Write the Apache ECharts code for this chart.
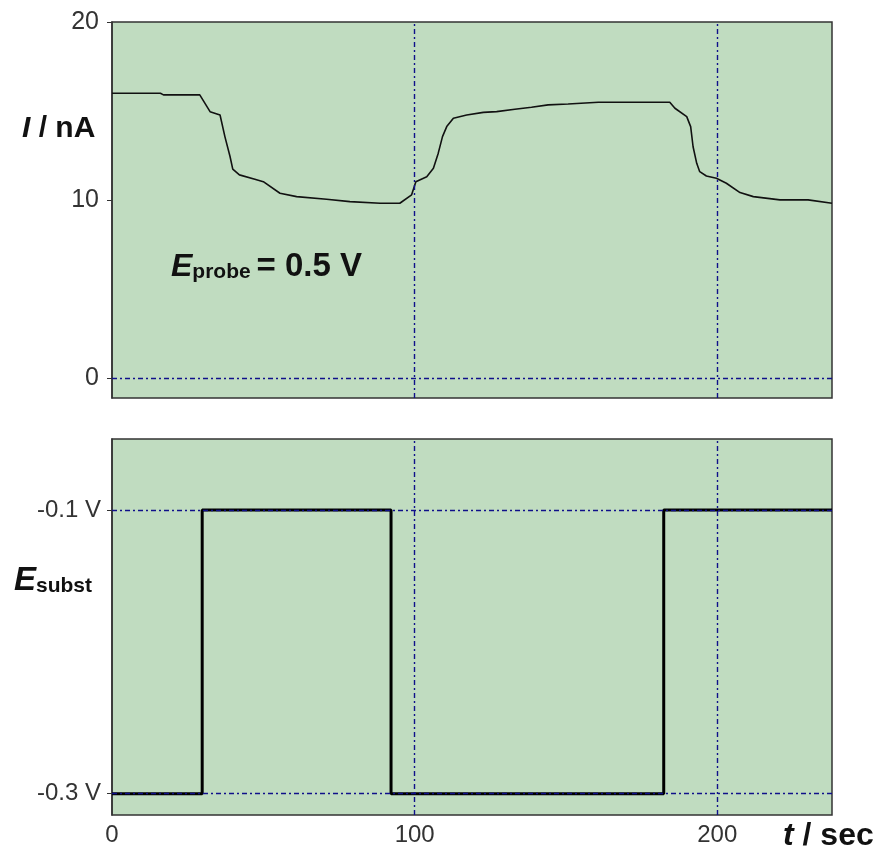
<!DOCTYPE html>
<html>
<head>
<meta charset="utf-8">
<script src="https://cdn.jsdelivr.net/npm/echarts@6/dist/echarts.min.js"></script>
<style>
html,body{margin:0;padding:0;background:#fff;}
#chart{width:881px;height:855px;}
</style>
</head>
<body>
<div id="chart"></div>
<script>
// Probe current trace (t in sec, I in nA)
const timeProbe = [0, 16, 17, 29, 32.4, 35.7, 37.3, 39.0, 39.9, 42.1, 47.2, 50.0, 55.5, 61.0, 70.9, 78.6, 88.6, 95.1, 99.0, 100.4, 104.0, 106.2, 107.8, 109.2, 110.6, 112.8, 117.2, 122.7, 127.1, 133.1, 138.6, 144.1, 150.7, 160.7, 184.3, 186.0, 189.9, 191.2, 192.0, 193.2, 194.2, 196.4, 199.7, 203.0, 207.5, 211.9, 220.7, 230.0, 237.9];
const currentProbe = [16.0, 16.0, 15.91, 15.91, 14.97, 14.78, 13.57, 12.45, 11.74, 11.42, 11.18, 11.04, 10.39, 10.2, 10.05, 9.92, 9.83, 9.83, 10.3, 11.04, 11.32, 11.79, 12.64, 13.57, 14.13, 14.6, 14.78, 14.93, 14.97, 15.1, 15.22, 15.35, 15.4, 15.5, 15.5, 15.16, 14.69, 14.13, 13.0, 12.07, 11.6, 11.36, 11.23, 10.95, 10.43, 10.2, 10.02, 10.02, 9.83];
// Substrate potential steps (t in sec, E in V)
const timeSubst = [0, 29.8, 92.2, 182.3, 237.9];
const potentialSubst = [-0.3, -0.1, -0.3, -0.1, -0.1];
// Tick labels and reference lines
const xTicks = [0, 100, 200];
const yTicksTop = [0, 10, 20];
const yTicksBottom = [-0.3, -0.1];
const xRefLines = [100, 200];
const yRefTop = [0];
const yRefBottom = [-0.1, -0.3];

const chart = echarts.init(document.getElementById('chart'), null, {renderer: 'canvas'});
const FONT = 'Liberation Sans, Arial, sans-serif';
const gridCommon = {show: true, backgroundColor: '#c0dcc0', borderColor: '#333', borderWidth: 1.5, left: 112, width: 720, height: 376};
const refStyle = {color: '#10108a', width: 1.4, type: [5, 3, 2, 3]};
function refLines(xs, ys) {
  return xs.map(v => ({xAxis: v})).concat(ys.map(v => ({yAxis: v})));
}
const pairs = (a, b) => a.map((v, i) => [v, b[i]]);

const option = {
  animation: false,
  backgroundColor: '#fff',
  grid: [
    Object.assign({top: 22}, gridCommon),
    Object.assign({top: 439}, gridCommon)
  ],
  xAxis: [
    {gridIndex: 0, type: 'value', min: 0, max: 237.9, axisLine: {show: false}, axisTick: {show: false}, axisLabel: {show: false}, splitLine: {show: false}},
    {gridIndex: 1, type: 'value', min: 0, max: 237.9, axisLine: {show: false}, axisTick: {show: false}, splitLine: {show: false},
     axisLabel: {customValues: xTicks, fontFamily: FONT, fontSize: 24, color: '#333', margin: 8}}
  ],
  yAxis: [
    {gridIndex: 0, type: 'value', min: -1.1, max: 20, splitLine: {show: false},
     axisLine: {show: true, lineStyle: {color: '#333', width: 1.5}},
     axisTick: {show: true, customValues: yTicksTop, length: 5, lineStyle: {color: '#333'}},
     axisLabel: {customValues: yTicksTop, fontFamily: FONT, fontSize: 25, color: '#333', margin: 13}},
    {gridIndex: 1, type: 'value', min: -0.315, max: -0.05, splitLine: {show: false},
     axisLine: {show: true, lineStyle: {color: '#333', width: 1.5}},
     axisTick: {show: true, customValues: yTicksBottom, length: 5, lineStyle: {color: '#333'}},
     axisLabel: {customValues: yTicksBottom, fontFamily: FONT, fontSize: 24, color: '#333', margin: 11,
       formatter: v => v.toFixed(1) + ' V'}}
  ],
  series: [
    {type: 'line', xAxisIndex: 0, yAxisIndex: 0, data: pairs(timeProbe, currentProbe), showSymbol: false, z: 1,
     lineStyle: {opacity: 0}, silent: true,
     markLine: {silent: true, symbol: 'none', label: {show: false}, lineStyle: refStyle, data: refLines(xRefLines, yRefTop)}},
    {type: 'line', xAxisIndex: 0, yAxisIndex: 0, data: pairs(timeProbe, currentProbe), showSymbol: false, z: 3,
     lineStyle: {color: '#111', width: 1.6}},
    {type: 'line', xAxisIndex: 1, yAxisIndex: 1, data: pairs(timeSubst, potentialSubst), step: 'end', showSymbol: false, z: 1,
     lineStyle: {opacity: 0}, silent: true,
     markLine: {silent: true, symbol: 'none', label: {show: false}, lineStyle: refStyle, data: refLines(xRefLines, yRefBottom)}},
    {type: 'line', xAxisIndex: 1, yAxisIndex: 1, data: pairs(timeSubst, potentialSubst), step: 'end', showSymbol: false, z: 3,
     lineStyle: {color: '#000', width: 3}}
  ],
  graphic: [
    {type: 'text', left: 22, top: 114, style: {text: '{i|I }{n|/ nA}', rich: {
      i: {fontFamily: FONT, fontSize: 30, fontWeight: 'bold', fontStyle: 'italic', fill: '#111'},
      n: {fontFamily: FONT, fontSize: 30, fontWeight: 'bold', fill: '#111'}}}},
    {type: 'text', left: 14, top: 564, style: {text: '{e|E}{s|subst}', rich: {
      e: {fontFamily: FONT, fontSize: 33, fontWeight: 'bold', fontStyle: 'italic', fill: '#111', verticalAlign: 'bottom', lineHeight: 34},
      s: {fontFamily: FONT, fontSize: 21, fontWeight: 'bold', fill: '#111', verticalAlign: 'bottom', lineHeight: 26}}}},
    {type: 'text', left: 171, top: 250, style: {text: '{e|E}{s|probe }{v|= 0.5 V}', rich: {
      e: {fontFamily: FONT, fontSize: 32, fontWeight: 'bold', fontStyle: 'italic', fill: '#111', verticalAlign: 'bottom', lineHeight: 33},
      s: {fontFamily: FONT, fontSize: 21, fontWeight: 'bold', fill: '#111', verticalAlign: 'bottom', lineHeight: 28},
      v: {fontFamily: FONT, fontSize: 33, fontWeight: 'bold', fill: '#111', verticalAlign: 'bottom', lineHeight: 33}}}},
    {type: 'text', left: 783, top: 820, style: {text: '{t|t }{s|/ sec}', rich: {
      t: {fontFamily: FONT, fontSize: 32, fontWeight: 'bold', fontStyle: 'italic', fill: '#111'},
      s: {fontFamily: FONT, fontSize: 32, fontWeight: 'bold', fill: '#111'}}}}
  ]
};
chart.setOption(option);
</script>
</body>
</html>
